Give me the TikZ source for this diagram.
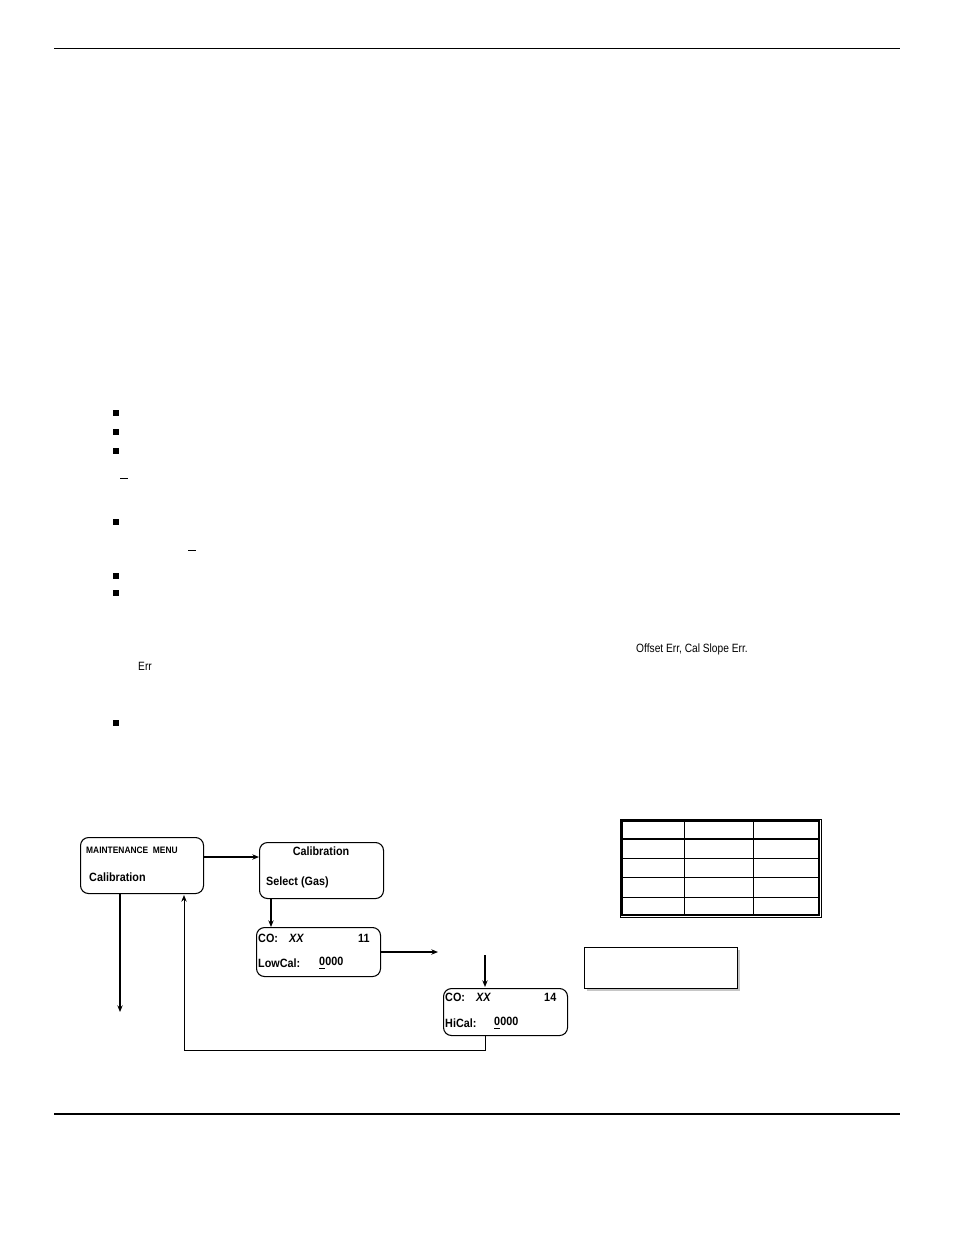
\documentclass[tikz,border=0pt]{standalone}
\usepackage{fontspec}
\setmainfont{Liberation Sans}
\usetikzlibrary{arrows.meta}
\begin{document}
\begin{tikzpicture}[x=0.75pt,y=-0.75pt,
  scr/.style={draw,rounded corners=6pt,line width=0.8pt,inner sep=0pt,anchor=north west},
  lbl/.style={anchor=west,inner sep=0pt,font=\fontsize{9}{10}\selectfont\bfseries},
  sml/.style={anchor=west,inner sep=0pt,font=\fontsize{7}{8}\selectfont\bfseries},
  txt/.style={anchor=west,inner sep=0pt,font=\fontsize{9}{10}\selectfont},
  arr/.style={-{Stealth[length=5pt,width=4pt]},line width=0.9pt},
  bul/.style={fill=black,minimum size=4.5pt,inner sep=0pt}]
\useasboundingbox (0,0) rectangle (954,1235);
\fill[white] (0,0) rectangle (954,1235);
\draw[line width=0.7pt] (54,48) -- (900,48);
\draw[line width=1.4pt] (54,1114) -- (900,1114);
% bullets
\foreach \y [count=\i] in {413,432,451,522,576,593,723} \node[bul] (b\i) at (116,\y) {};
\draw[line width=0.6pt] (120,478) -- (128,478);
\draw[line width=0.6pt] (188,550) -- (196,550);
\node[txt,xscale=0.85] (t1) at (636,649) {Offset Err, Cal Slope Err.};
\node[txt,xscale=0.85] (t2) at (138,666) {Err};
% boxes
\node[scr,minimum width=123*0.75pt,minimum height=56*0.75pt] (A) at (80,837) {};
\node[sml,xscale=0.9] (a1) at (86,850) {MAINTENANCE\ \ MENU};
\node[lbl,xscale=0.9] (a2) at (89,877) {Calibration};
\node[scr,minimum width=124*0.75pt,minimum height=56*0.75pt] (B) at (259,842) {};
\node[lbl,xscale=0.9,anchor=center] (b1) at (321,851) {Calibration};
\node[lbl,xscale=0.9] (b2) at (266,882) {Select (Gas)};
\node[scr,minimum width=124*0.75pt,minimum height=49*0.75pt] (C) at (256,927) {};
\node[lbl,xscale=0.9] (c1) at (258,938) {CO:};
\node[lbl,xscale=0.9] (c2) at (289,938) {\itshape XX};
\node[lbl,xscale=0.9] (c3) at (358,938) {11};
\node[lbl,xscale=0.9] (c4) at (258,963) {LowCal:};
\node[lbl,xscale=0.9] (c5) at (319,963) {\underline{0}000};
\node[scr,minimum width=124*0.75pt,minimum height=47*0.75pt] (D) at (443,988) {};
\node[lbl,xscale=0.9] (d1) at (445,997) {CO:};
\node[lbl,xscale=0.9] (d2) at (476,997) {\itshape XX};
\node[lbl,xscale=0.9] (d3) at (544,997) {14};
\node[lbl,xscale=0.9] (d4) at (445,1023) {HiCal:};
\node[lbl,xscale=0.9] (d5) at (494,1023) {\underline{0}000};
% arrows
\draw[arr] (A.east|-0,857) -- (B.west|-0,857);
\draw[arr] (271,898) -- (271,927);
\coordinate (c6) at (438,952);
\draw[arr] (C.east|-0,952) -- (c6);
\coordinate (d6) at (485,955);
\draw[arr] (d6) -- (485,987);
\coordinate (a6) at (120,1012);
\draw[arr] (120,894) -- (a6);
\draw[arr,line width=0.7pt] (485,1035) -- (485,1050) -- (184,1050) -- (184,895);
% table
\draw[line width=0.6pt] (620,819) rectangle (821,917);
\draw[line width=1.2pt] (622,821) rectangle (819,915);
\foreach \x in {684,753} \draw[line width=0.7pt] (\x,821) -- (\x,915);
\draw[line width=1.3pt] (622,839) -- (819,839);
\foreach \y in {858,877,897} \draw[line width=0.7pt] (622,\y) -- (819,\y);
% shadow box
\fill[gray!45] (587,950) rectangle (740,991);
\node[draw,fill=white,line width=0.8pt,anchor=north west,minimum width=153*0.75pt,minimum height=41*0.75pt,inner sep=0pt] (E) at (584,947) {};
\end{tikzpicture}
\end{document}
